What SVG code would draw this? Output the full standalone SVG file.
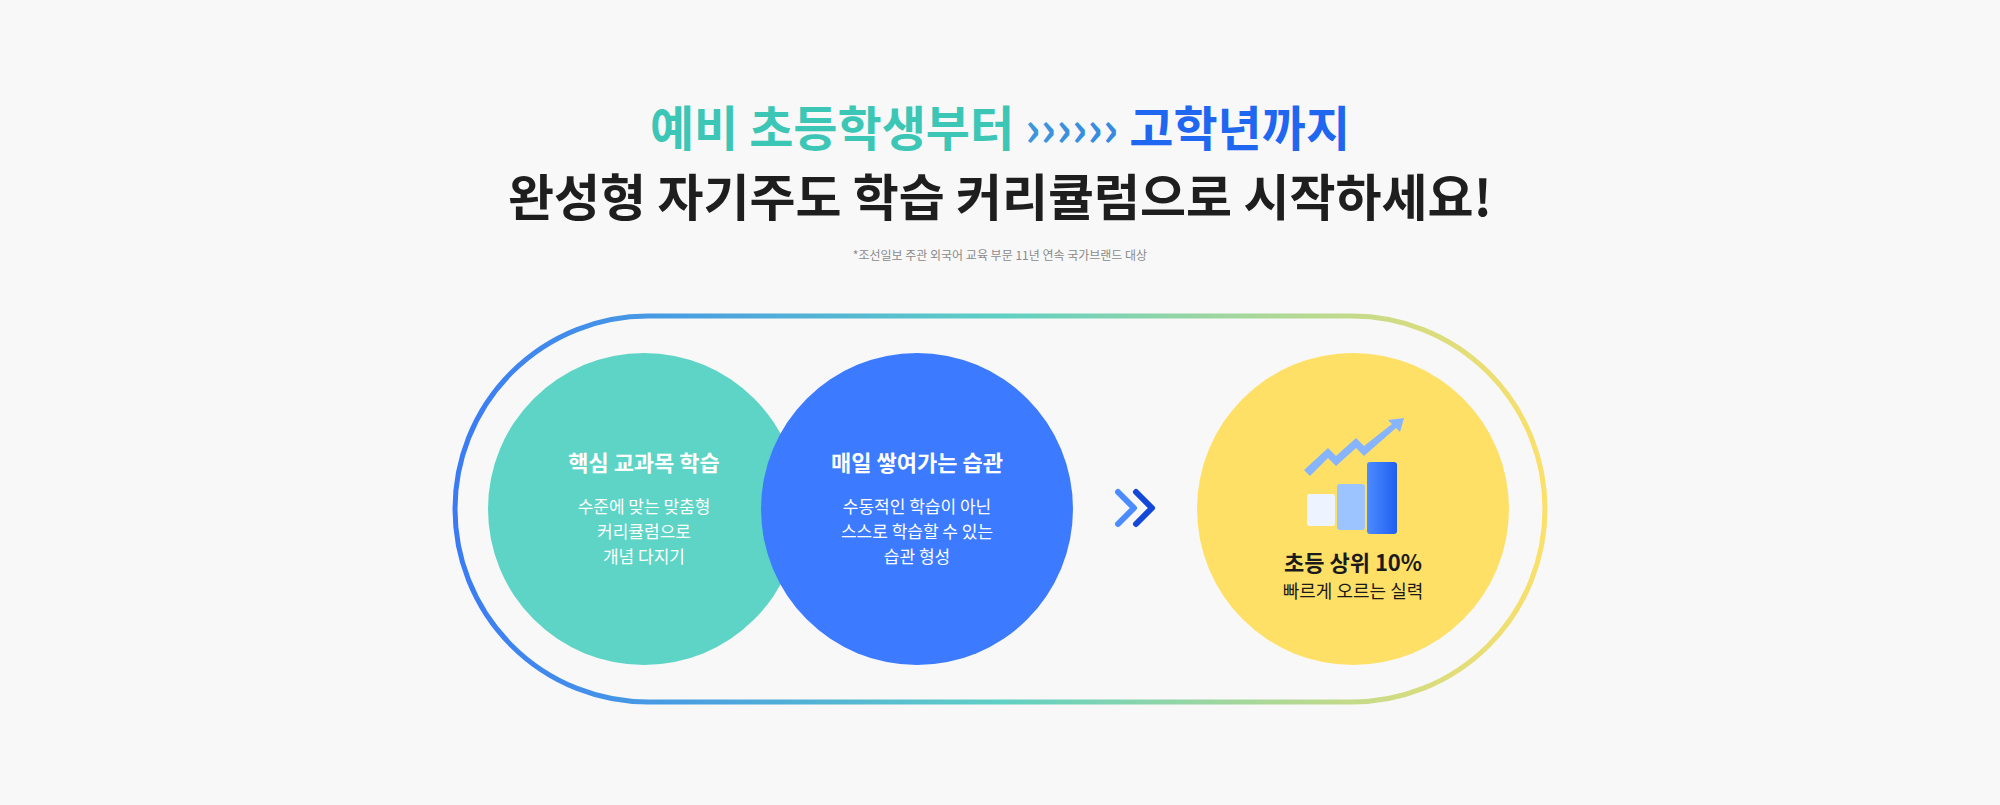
<svg xmlns="http://www.w3.org/2000/svg" width="2000" height="805" viewBox="0 0 2000 805">
<defs>
<linearGradient id="pill" x1="0" y1="0" x2="1" y2="0">
<stop offset="0" stop-color="#3a7bf5"/><stop offset="0.5" stop-color="#5fd0c4"/><stop offset="1" stop-color="#fbe06a"/>
</linearGradient>
<linearGradient id="chev" x1="0" y1="0" x2="1" y2="0">
<stop offset="0" stop-color="#5fd0c4"/><stop offset="1" stop-color="#1f66f0"/>
</linearGradient>
<linearGradient id="bar" x1="0" y1="0" x2="1" y2="0">
<stop offset="0" stop-color="#4c8cff"/><stop offset="1" stop-color="#1f5ff0"/>
</linearGradient>
<style>
.t{font-family:"Noto Sans CJK KR","Noto Sans",sans-serif;text-anchor:middle}
.h{font-weight:700;font-size:22px;fill:#fff}
.b{font-size:17px;fill:#fff}
</style>
</defs>
<rect width="2000" height="805" fill="#f8f8f8"/>
<g id="title">
<text class="t" x="1000" y="146" font-size="48" font-weight="700"><tspan fill="#3cc6b6">예비 초등학생부터 </tspan><tspan fill="url(#chev)">››››››</tspan><tspan fill="#1f66f0"> 고학년까지</tspan></text>
<text class="t" x="1000" y="216" font-size="50" font-weight="700" fill="#1e1e1e">완성형 자기주도 학습 커리큘럼으로 시작하세요!</text>
<text class="t" x="1000" y="260" font-size="12" fill="#8a8a8a">*조선일보 주관 외국어 교육 부문 11년 연속 국가브랜드 대상</text>
</g>
<g id="connectors">
<rect x="455" y="316" width="1090" height="386" rx="193" fill="none" stroke="url(#pill)" stroke-width="5"/>
<path d="M1118 492 L1134 508 L1118 524" fill="none" stroke="#4c8cff" stroke-width="6" stroke-linecap="round" stroke-linejoin="round"/>
<path d="M1136 492 L1152 508 L1136 524" fill="none" stroke="#1448d8" stroke-width="6" stroke-linecap="round" stroke-linejoin="round"/>
</g>
<g id="node-core">
<circle cx="644" cy="509" r="156" fill="#5dd4c6"/>
<text class="t h" x="644" y="471">핵심 교과목 학습</text>
<text class="t b" x="644" y="513">수준에 맞는 맞춤형</text>
<text class="t b" x="644" y="538">커리큘럼으로</text>
<text class="t b" x="644" y="563">개념 다지기</text>
</g>
<g id="node-habit">
<circle cx="917" cy="509" r="156" fill="#3c7bff"/>
<text class="t h" x="917" y="471">매일 쌓여가는 습관</text>
<text class="t b" x="917" y="513">수동적인 학습이 아닌</text>
<text class="t b" x="917" y="538">스스로 학습할 수 있는</text>
<text class="t b" x="917" y="563">습관 형성</text>
</g>
<g id="node-result">
<circle cx="1353" cy="509" r="156" fill="#ffe066"/>
<g id="icon">
<path d="M1304 470 L1328 448 L1336 456 L1356 438 L1364 446 L1392 424 L1388 420 L1404 418 L1400 432 L1396 428 L1364 456 L1356 448 L1336 466 L1328 458 L1310 476 Z" fill="#86b4ff"/>
<rect x="1307" y="494" width="28" height="32" rx="3" fill="#eef4ff"/>
<rect x="1337" y="484" width="28" height="46" rx="3" fill="#9cc4ff"/>
<rect x="1367" y="462" width="30" height="72" rx="3" fill="url(#bar)"/>
</g>
<text class="t" x="1353" y="571" font-size="22" font-weight="700" fill="#1a1a1a">초등 상위 10%</text>
<text class="t" x="1353" y="598" font-size="18" fill="#1a1a1a">빠르게 오르는 실력</text>
</g>
</svg>
